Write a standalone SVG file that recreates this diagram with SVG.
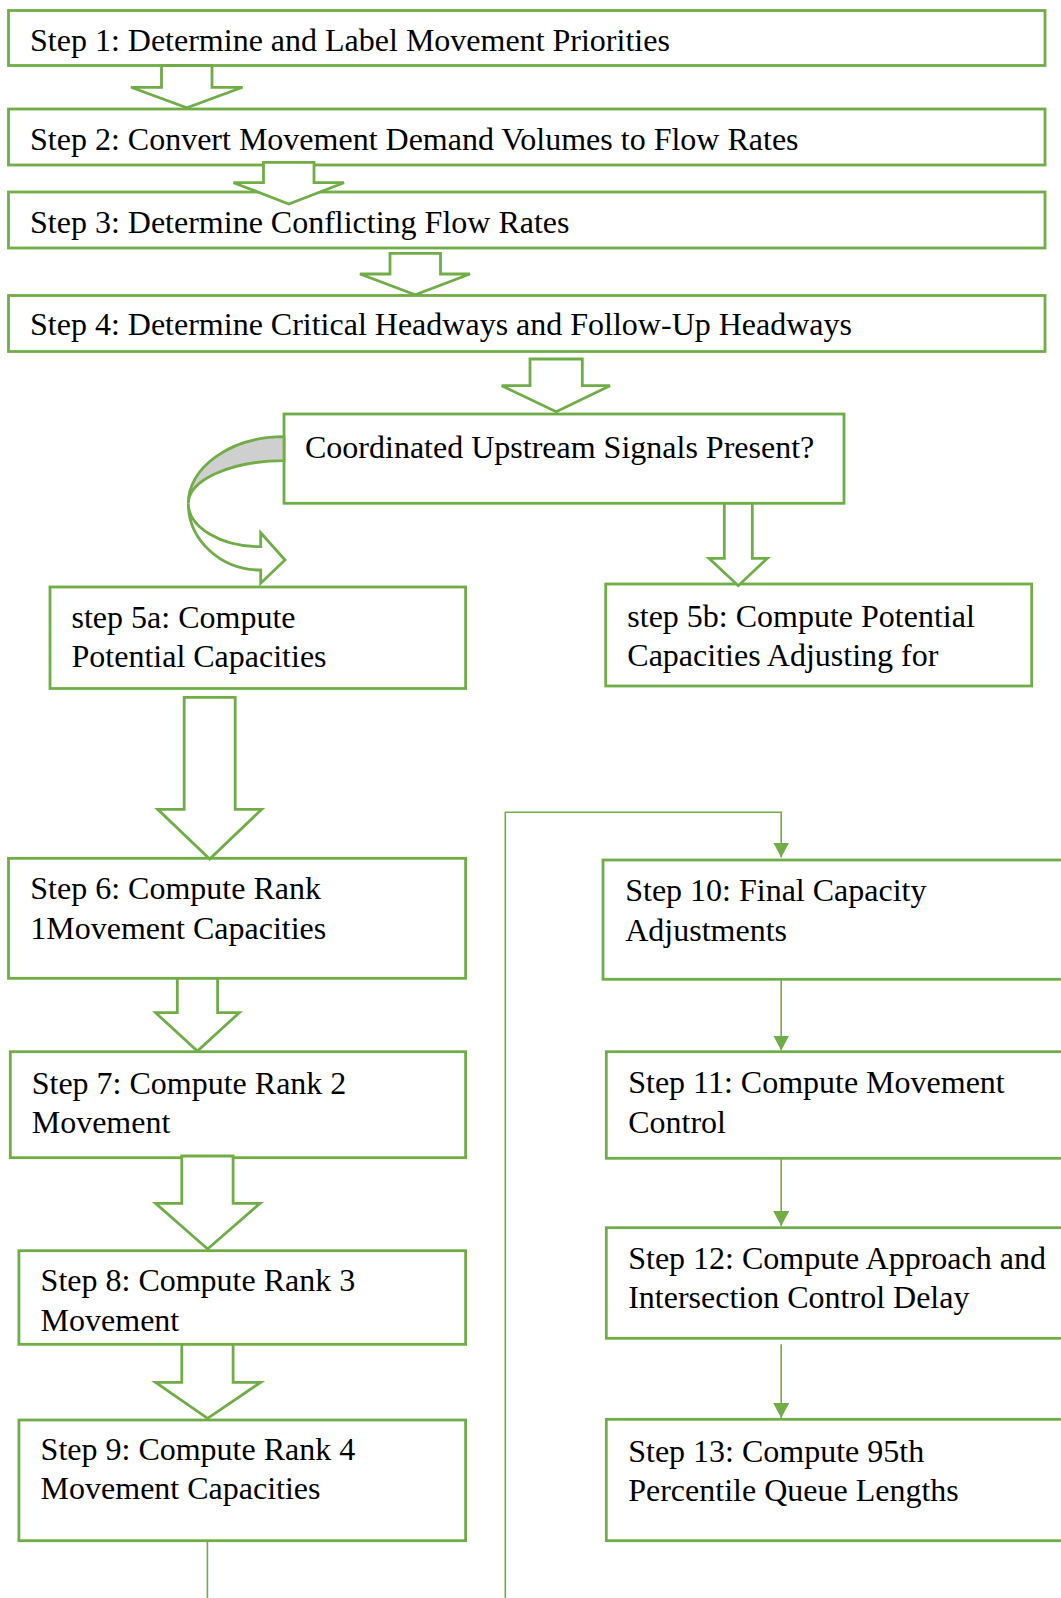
<svg xmlns="http://www.w3.org/2000/svg" width="1061" height="1598" viewBox="0 0 1061 1598">
  <style>
    .box { fill: #ffffff; stroke: #70ad47; stroke-width: 2.8; }
    .blk { fill: #ffffff; stroke: #70ad47; stroke-width: 2.8; stroke-linejoin: miter; }
    .band { fill: #cfcfcf; stroke: #70ad47; stroke-width: 2.8; }
    .ln { fill: none; stroke: #70ad47; stroke-width: 1.6; }
    text { font-family: "Liberation Serif", "Times New Roman", serif; font-size: 32px; fill: #000000; }
  </style>
  <defs>
    <marker id="tri" viewBox="0 0 15 16" refX="15" refY="8" markerWidth="15" markerHeight="16" markerUnits="userSpaceOnUse" orient="auto">
      <path d="M0,0 L15,8 L0,16 Z" fill="#70ad47"/>
    </marker>
  </defs>
  <rect width="1061" height="1598" fill="#ffffff"/>

  <!-- process steps -->
  <g id="step1">
    <rect class="box" x="8.5" y="10.5" width="1036.5" height="55"/>
    <text x="30" y="50.5">Step 1: Determine and Label Movement Priorities</text>
  </g>
  <g id="step2">
    <rect class="box" x="8.5" y="109" width="1036.5" height="56"/>
    <text x="30" y="150">Step 2: Convert Movement Demand Volumes to Flow Rates</text>
  </g>
  <g id="step3">
    <rect class="box" x="8.5" y="192" width="1036.5" height="56"/>
    <text x="30" y="232.5">Step 3: Determine Conflicting Flow Rates</text>
  </g>
  <g id="step4">
    <rect class="box" x="8.5" y="295.5" width="1036.5" height="56"/>
    <text x="30" y="335">Step 4: Determine Critical Headways and Follow-Up Headways</text>
  </g>
  <g id="decision">
    <rect class="box" x="284" y="414" width="560" height="89.3"/>
    <text x="305" y="458">Coordinated Upstream Signals Present?</text>
  </g>
  <g id="step5a">
    <rect class="box" x="50" y="587" width="415.6" height="101.5"/>
    <text x="71.5" y="627.5">step 5a: Compute</text>
    <text x="71.5" y="667">Potential Capacities</text>
  </g>
  <g id="step5b">
    <rect class="box" x="605.7" y="584" width="426" height="102"/>
    <text x="627.3" y="627">step 5b: Compute Potential</text>
    <text x="627.3" y="665.5">Capacities Adjusting for</text>
  </g>
  <g id="step6">
    <rect class="box" x="8.5" y="858.3" width="457.1" height="120"/>
    <text x="30.3" y="899">Step 6: Compute Rank</text>
    <text x="30.3" y="938.5">1Movement Capacities</text>
  </g>
  <g id="step7">
    <rect class="box" x="10.3" y="1051.7" width="455.3" height="106"/>
    <text x="31.7" y="1093.5">Step 7: Compute Rank 2</text>
    <text x="31.7" y="1133">Movement</text>
  </g>
  <g id="step8">
    <rect class="box" x="18.9" y="1250.7" width="446.7" height="93.6"/>
    <text x="40.6" y="1291">Step 8: Compute Rank 3</text>
    <text x="40.6" y="1330.5">Movement</text>
  </g>
  <g id="step9">
    <rect class="box" x="18.9" y="1420" width="446.7" height="120.7"/>
    <text x="40.6" y="1460">Step 9: Compute Rank 4</text>
    <text x="40.6" y="1499.3">Movement Capacities</text>
  </g>
  <g id="step10">
    <rect class="box" x="603" y="860" width="470" height="119.3"/>
    <text x="625.2" y="900.7">Step 10: Final Capacity</text>
    <text x="625.2" y="940.5">Adjustments</text>
  </g>
  <g id="step11">
    <rect class="box" x="606.3" y="1051.7" width="470" height="106.6"/>
    <text x="628.2" y="1093.3">Step 11: Compute Movement</text>
    <text x="628.2" y="1132.8">Control</text>
  </g>
  <g id="step12">
    <rect class="box" x="606.3" y="1227.7" width="470" height="110.6"/>
    <text x="628.2" y="1269">Step 12: Compute Approach and</text>
    <text x="628.2" y="1308.3">Intersection Control Delay</text>
  </g>
  <g id="step13">
    <rect class="box" x="606.3" y="1419.3" width="470" height="121.4"/>
    <text x="628.2" y="1461.5">Step 13: Compute 95th</text>
    <text x="628.2" y="1500.5">Percentile Queue Lengths</text>
  </g>

  <!-- connectors: block arrows, curved arrow and thin elbow lines -->
  <g id="connectors">
    <polygon class="blk" points="161.5,65.5 212,65.5 212,87.3 242.6,87.3 186.8,107.7 131,87.3 161.5,87.3"/>
    <polygon class="blk" points="263.5,162.3 314,162.3 314,182.7 344,182.7 288.8,204 233.5,182.7 263.5,182.7"/>
    <polygon class="blk" points="390,253.3 440.5,253.3 440.5,274 470,274 415.2,294.7 360,274 390,274"/>
    <polygon class="blk" points="530,359 582.3,359 582.3,385.7 610,385.7 556.2,411.7 501.7,385.7 530,385.7"/>
    <polygon class="blk" points="724.3,503.3 752.3,503.3 752.3,558.3 767.3,558.3 738.3,585.7 709,558.3 724.3,558.3"/>
    <polygon class="blk" points="184.2,697.3 235.2,697.3 235.2,809.3 261.7,809.3 209.7,859 157.7,809.3 184.2,809.3"/>
    <polygon class="blk" points="177.3,978.3 217.6,978.3 217.6,1012.7 239.3,1012.7 197.4,1051 155.6,1012.7 177.3,1012.7"/>
    <polygon class="blk" points="181.8,1156 233.1,1156 233.1,1203.3 260,1203.3 207.6,1249 155.6,1203.3 181.8,1203.3"/>
    <polygon class="blk" points="181.8,1344.3 233.1,1344.3 233.1,1382.3 260.7,1382.3 207.6,1418.3 155.6,1382.3 181.8,1382.3"/>

    <!-- curved arrow from the decision box down to step 5a -->
    <path class="band" d="M284,436.7 A96,66.6 0 0 0 188.3,503.3 A96,42.6 0 0 1 284,460.7 Z"/>
    <path class="blk" d="M188.3,503.3 A72.4,66.7 0 0 0 260.7,570 L260.7,583.3 L285,560 L260.7,532.7 L260.7,546.7 A72.4,43.4 0 0 1 188.3,503.3 Z"/>

    <!-- thin connectors -->
    <path class="ln" d="M505.3,1598 L505.3,812.3 L781.2,812.3 L781.2,857.5" marker-end="url(#tri)"/>
    <path class="ln" d="M781.2,979.3 L781.2,1050.5" marker-end="url(#tri)"/>
    <path class="ln" d="M781.2,1158.3 L781.2,1226" marker-end="url(#tri)"/>
    <path class="ln" d="M781.2,1344.3 L781.2,1418" marker-end="url(#tri)"/>
    <path class="ln" d="M207.4,1540.7 L207.4,1598"/>
  </g>
</svg>
